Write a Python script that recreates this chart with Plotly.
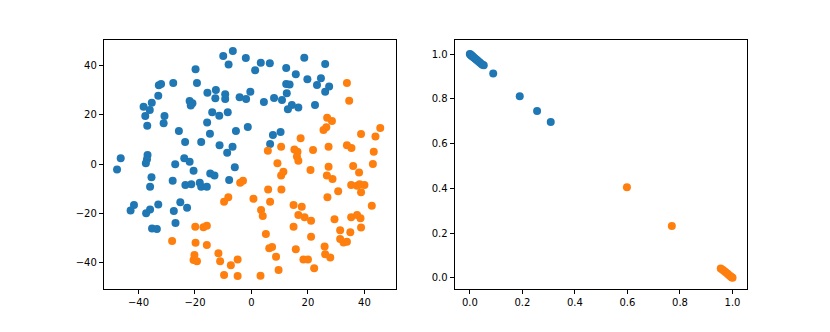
import plotly.graph_objs as go

BLUE = "#1f77b4"
ORANGE = "#ff7f0e"

# left panel: 2-D embedding, class 0
emb0_x = [
    -19.8, -32.8, -32.0, -27.7, -19.3, -33.0, -35.3, -38.2, -36.0, -37.6,
    -36.9, -30.8, -31.1, -21.9, -20.9, -21.5, -25.7, -23.5, -17.8, -46.3,
    -36.8, -37.0, -37.4, -23.8, -21.9, -27.0,
    -10.0, -6.6, -8.1, -2.0, 3.3, 6.5, 1.3, 12.3, 15.7,
    -15.6, -12.6, -12.8, -9.3, -9.3, -4.2, -1.9, -0.4, 4.4, 8.0, 10.8,
    12.3, 13.5, 12.5, 14.3, 12.9, 16.6,
    -13.9, -11.4, -8.4, -15.7, -14.7, -5.5, -1.3, -11.3, -6.7, -8.6,
    7.6, 10.3, 6.6,
    18.7, 26.1, 19.8, 24.6, 23.2, 27.5, 26.1, 22.5,
    -47.6, -20.5, -35.4, -35.9, -27.9, -23.4, -21.3, -18.3, -17.8,
    -41.6, -42.8, -35.9, -37.3, -33.0, -25.2, -27.5, -22.8, -26.9,
    -35.2, -33.5,
    -5.9, -14.6, -13.1, -15.8, -7.9,
]
emb0_y = [
    38.4, 31.9, 32.5, 32.9, 32.9, 27.7, 24.9, 23.2, 21.9, 19.5,
    15.5, 19.5, 16.5, 25.6, 24.6, 23.7, 13.4, 8.9, 8.9, 2.3,
    3.7, 1.9, 0.3, 2.3, 0.9, -0.1,
    43.8, 45.8, 40.4, 43.0, 41.1, 40.9, 38.0, 38.9, 36.4,
    28.9, 30.0, 26.7, 28.3, 26.4, 27.1, 26.4, 29.3, 25.2, 26.8, 26.0,
    32.5, 32.3, 28.7, 23.9, 22.2, 22.9,
    21.0, 19.6, 21.0, 16.8, 12.3, 13.4, 15.0, 7.6, 7.0, 4.6,
    11.8, 13.0, 8.1,
    43.1, 40.6, 34.4, 34.8, 32.0, 31.4, 29.3, 23.9,
    -2.2, -2.7, -5.4, -9.2, -6.8, -8.5, -8.2, -7.6, -9.2,
    -16.6, -18.9, -18.4, -20.0, -16.4, -15.5, -19.1, -17.7, -23.9,
    -26.2, -26.4,
    -1.3, -3.8, -4.7, -9.2, -6.5,
]

# left panel: 2-D embedding, class 1
emb1_x = [
    33.8, 34.6, 26.8, 28.5, 25.5, 26.5, 38.8, 45.6, 43.9, 17.4,
    21.8, 27.3, 33.8, 35.4, 43.3, 5.8, 10.5, 15.2, 16.3, 16.1, 16.6, 9.2,
    -4.0, -3.0, 11.3, 10.5, 5.9, 10.6, 0.7, 6.6, -9.7, -8.2,
    3.4, 4.0, 14.9, 14.9, 5.1, -15.8, 6.3, 7.3, 8.7, -11.7,
    -11.1, -4.9, -7.3, -9.7, -4.9, 3.2, 9.6, 15.7,
    -19.9, -17.0, -15.8, -28.1, -19.8, -20.2, -20.5, -19.3,
    20.9, 27.3, 26.7, 28.7, 36.0, 38.1, 43.0, 35.3, 37.4, 38.3,
    40.0, 38.8, 30.7, 26.9, 42.6, 17.8, 16.6, 18.8, 21.1, 29.4,
    35.3, 37.4, 38.6, 31.4, 35.0, 38.8, 21.1, 31.4, 32.6, 33.8,
    25.9, 26.1, 27.9, 18.4, 20.0, 22.2,
]
emb1_y = [
    32.9, 25.7, 18.8, 17.4, 13.8, 14.9, 12.2, 14.6, 11.2, 10.4,
    5.7, 7.0, 7.6, 6.5, 5.0, 5.4, 7.0, 5.9, 5.0, 3.0, 1.3, 0.3,
    -7.6, -6.8, -3.1, -4.7, -10.3, -10.3, -14.1, -15.3, -15.3, -13.5,
    -18.7, -21.1, -16.6, -25.4, -28.4, -32.9, -34.2, -33.7, -37.6, -36.2,
    -39.4, -38.7, -41.1, -45.0, -45.4, -45.3, -43.0, -34.6,
    -25.4, -25.6, -25.0, -31.2, -31.9, -36.9, -38.9, -39.4,
    -2.4, -1.1, -4.7, -6.1, -0.8, -3.4, 0.0, -8.5, -8.8, -8.2,
    -8.5, -11.5, -11.0, -13.5, -16.9, -17.3, -20.7, -21.6, -23.0, -22.4,
    -21.6, -20.7, -22.0, -26.9, -27.7, -25.8, -29.5, -30.4, -31.8, -31.5,
    -33.5, -36.6, -37.9, -38.7, -38.7, -42.3,
]

# right panel: class probabilities
prob0_x = [0.0, 0.002, 0.004, 0.006, 0.008, 0.010, 0.013, 0.016, 0.020, 0.024,
           0.028, 0.033, 0.038, 0.043, 0.048, 0.053, 0.089, 0.190, 0.256, 0.308]
prob0_y = [1.0, 0.998, 0.996, 0.994, 0.992, 0.990, 0.987, 0.984, 0.980, 0.976,
           0.972, 0.967, 0.962, 0.957, 0.952, 0.950, 0.913, 0.812, 0.746, 0.696]
prob1_x = [0.598, 0.769, 0.955, 0.962, 0.968, 0.974, 0.980, 0.985, 0.990,
           0.994, 0.997, 1.0]
prob1_y = [0.405, 0.232, 0.042, 0.036, 0.030, 0.025, 0.019, 0.014, 0.009,
           0.005, 0.002, 0.0]


def dots(x, y, color, xa="x", ya="y"):
    return go.Scatter(
        x=x,
        y=y,
        mode="markers",
        marker=dict(color=color, size=8, line=dict(width=0)),
        xaxis=xa,
        yaxis=ya,
        showlegend=False,
        hoverinfo="skip",
    )


def axis_style(**kw):
    d = dict(
        showline=True,
        mirror=True,
        linecolor="black",
        linewidth=1,
        ticks="outside",
        ticklen=4,
        tickwidth=1,
        tickcolor="black",
        showgrid=False,
        zeroline=False,
        tickfont=dict(family="DejaVu Sans", size=10, color="black"),
    )
    d.update(kw)
    return d


fig = go.Figure()
fig.add_trace(dots(emb0_x, emb0_y, BLUE))
fig.add_trace(dots(emb1_x, emb1_y, ORANGE))
fig.add_trace(dots(prob0_x, prob0_y, BLUE, "x2", "y2"))
fig.add_trace(dots(prob1_x, prob1_y, ORANGE, "x2", "y2"))

# page body adds an 8px margin, so the figure is a bit smaller than the window
fig.update_layout(
    width=822,
    height=324,
    margin=dict(l=0, r=0, t=0, b=0),
    paper_bgcolor="white",
    plot_bgcolor="white",
    xaxis=axis_style(domain=[0.1165, 0.4721], range=[-52.3, 51.2],
                     tickvals=[-40, -20, 0, 20, 40]),
    yaxis=axis_style(domain=[0.1327, 0.9012], range=[-50.7, 50.3],
                     tickvals=[-40, -20, 0, 20, 40]),
    xaxis2=axis_style(domain=[0.5433, 0.899], range=[-0.058, 1.055],
                      tickvals=[0, 0.2, 0.4, 0.6, 0.8, 1.0], tickformat=".1f",
                      anchor="y2"),
    yaxis2=axis_style(domain=[0.1327, 0.9012], range=[-0.05, 1.063],
                      tickvals=[0, 0.2, 0.4, 0.6, 0.8, 1.0], tickformat=".1f",
                      anchor="x2"),
)

fig.write_html("out.html")
